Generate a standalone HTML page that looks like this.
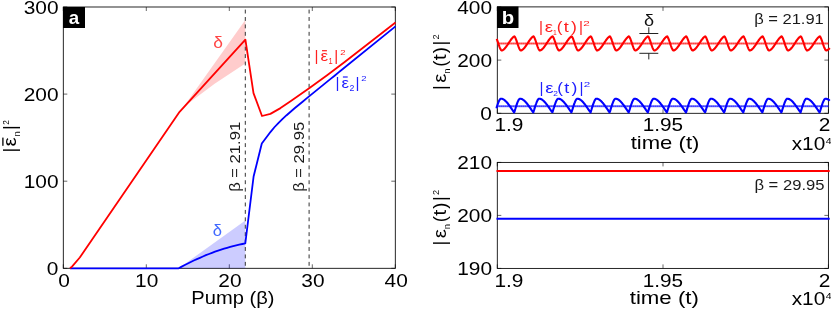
<!DOCTYPE html>
<html><head><meta charset="utf-8"><style>html,body{margin:0;padding:0;background:#fff;overflow:hidden}svg{display:block;font-family:"Liberation Sans",sans-serif;will-change:transform}</style></head>
<body><svg width="831" height="309" viewBox="0 0 831 309">
<rect x="63.3" y="7.0" width="332.00" height="261.30" fill="none" stroke="#000" stroke-width="0.85"/><path d="M63.30,268.3v-4M63.30,7.0v4M146.30,268.3v-4M146.30,7.0v4M229.30,268.3v-4M229.30,7.0v4M312.30,268.3v-4M312.30,7.0v4M395.30,268.3v-4M395.30,7.0v4M63.3,268.30h4M395.3,268.30h-4M63.3,181.20h4M395.3,181.20h-4M63.3,94.10h4M395.3,94.10h-4M63.3,7.00h4M395.3,7.00h-4" stroke="#000" stroke-width="0.6" fill="none"/>
<rect x="497.3" y="6.9" width="331.10" height="106.40" fill="none" stroke="#000" stroke-width="0.85"/><path d="M497.30,113.3v-4M497.30,6.9v4M663.00,113.3v-4M663.00,6.9v4M828.40,113.3v-4M828.40,6.9v4M497.3,113.30h4M828.4,113.30h-4M497.3,60.10h4M828.4,60.10h-4M497.3,6.90h4M828.4,6.90h-4" stroke="#000" stroke-width="0.6" fill="none"/>
<rect x="497.3" y="162.4" width="331.10" height="106.00" fill="none" stroke="#000" stroke-width="0.85"/><path d="M497.30,268.4v-4M497.30,162.4v4M663.00,268.4v-4M663.00,162.4v4M828.40,268.4v-4M828.40,162.4v4M497.3,268.40h4M828.4,268.40h-4M497.3,215.40h4M828.4,215.40h-4M497.3,162.40h4M828.4,162.40h-4" stroke="#000" stroke-width="0.6" fill="none"/>
<polygon points="183.5,107 245.3,20 245.3,63.4 215,83.5" fill="#ff0000" fill-opacity="0.2"/>
<polygon points="178.7,268.3 245.3,220.6 245.3,268.3" fill="#0000ff" fill-opacity="0.2"/>
<line x1="245.3" y1="7.0" x2="245.3" y2="268.3" stroke="#333" stroke-width="1" stroke-dasharray="3.9 3.52" stroke-dashoffset="-2.6"/>
<line x1="309.1" y1="7.0" x2="309.1" y2="268.3" stroke="#333" stroke-width="1" stroke-dasharray="3.9 3.52" stroke-dashoffset="-2.6"/>
<polyline points="70.0,268.3 178.7,268.3 181.7,266.6 184.8,265.0 187.8,263.5 190.8,262.0 193.8,260.5 196.9,259.1 199.9,257.8 202.9,256.5 205.9,255.2 209.0,254.0 212.0,252.8 215.0,251.7 218.1,250.7 221.1,249.7 224.1,248.7 227.1,247.8 230.2,246.9 233.2,246.1 236.2,245.4 239.2,244.7 242.3,244.0 245.3,243.4 253.6,176.5 261.8,143.5 270.6,131.8 274.6,127.0 278.6,122.8 282.6,118.9 286.6,115.2 290.6,111.7 294.6,108.3 298.6,105.0 302.6,101.7 306.6,98.4 310.6,95.1 314.6,91.9 318.6,88.6 322.6,85.4 326.6,82.1 330.6,78.9 334.6,75.7 338.6,72.4 340.0,71.3 395.5,26.4" fill="none" stroke="#0000ff" stroke-width="1.8" stroke-linejoin="round" />
<polyline points="70.0,268.3 72.0,266.6 79.8,257.5 179.6,111.8 245.4,39.7 253.5,93.1 262.0,116.0 270.4,113.9 280.5,108.1 290.9,101.1 309.5,88.1 327.1,75.2 345.0,61.8 395.5,22.5" fill="none" stroke="#ff0000" stroke-width="1.8" stroke-linejoin="round" />
<line x1="497.3" x2="828.4" y1="43.5" y2="43.5" stroke="#ff0000" stroke-opacity="0.5" stroke-width="1.9"/>
<line x1="497.3" x2="828.4" y1="43.5" y2="43.5" stroke="#ff0000" stroke-opacity="0.7" stroke-width="1.6" stroke-dasharray="1.1 0.9"/>
<line x1="497.3" x2="828.4" y1="106.3" y2="106.3" stroke="#0000ff" stroke-opacity="0.5" stroke-width="1.9"/>
<line x1="497.3" x2="828.4" y1="106.3" y2="106.3" stroke="#0000ff" stroke-opacity="0.7" stroke-width="1.6" stroke-dasharray="1.1 0.9"/>
<polyline points="496.7,38.8 497.0,39.6 497.3,40.4 497.6,41.3 497.9,42.2 498.2,43.1 498.5,44.0 498.8,44.9 499.1,45.7 499.4,46.6 499.7,47.4 500.0,48.1 500.3,48.8 500.6,49.3 500.9,49.8 501.2,50.2 501.5,50.4 501.8,50.5 502.1,50.4 502.4,50.3 502.7,50.2 503.0,50.0 503.3,49.8 503.6,49.6 503.9,49.3 504.2,49.1 504.5,48.8 504.8,48.4 505.1,48.1 505.4,47.7 505.7,47.3 506.0,47.0 506.3,46.5 506.6,46.1 506.9,45.7 507.2,45.3 507.5,44.8 507.8,44.4 508.1,43.9 508.4,43.5 508.7,43.0 509.0,42.5 509.3,42.1 509.6,41.6 509.9,41.2 510.2,40.8 510.5,40.3 510.8,39.9 511.1,39.5 511.4,39.1 511.7,38.7 512.0,38.4 512.3,38.0 512.6,37.7 512.9,37.4 513.2,37.1 513.5,36.9 513.8,36.7 514.1,36.5 514.4,36.3 514.7,36.7 515.0,37.1 515.3,37.7 515.6,38.4 515.9,39.1 516.2,39.9 516.5,40.7 516.8,41.6 517.1,42.5 517.4,43.4 517.7,44.3 518.0,45.2 518.3,46.0 518.6,46.9 518.9,47.6 519.2,48.3 519.5,49.0 519.8,49.5 520.1,50.0 520.4,50.3 520.7,50.5 521.0,50.5 521.3,50.4 521.6,50.3 521.9,50.1 522.2,49.9 522.5,49.7 522.8,49.5 523.1,49.2 523.4,48.9 523.7,48.6 524.0,48.3 524.3,48.0 524.6,47.6 524.9,47.2 525.2,46.8 525.5,46.4 525.8,46.0 526.1,45.5 526.4,45.1 526.7,44.7 527.0,44.2 527.3,43.7 527.6,43.3 527.9,42.8 528.2,42.4 528.5,41.9 528.8,41.5 529.1,41.0 529.4,40.6 529.7,40.2 530.0,39.8 530.3,39.4 530.6,39.0 530.9,38.6 531.2,38.2 531.5,37.9 531.8,37.6 532.1,37.3 532.4,37.0 532.7,36.8 533.0,36.6 533.3,36.4 533.6,36.4 533.9,36.8 534.2,37.3 534.5,37.9 534.8,38.6 535.1,39.4 535.4,40.2 535.7,41.0 536.0,41.9 536.3,42.8 536.6,43.7 536.9,44.6 537.2,45.5 537.5,46.4 537.8,47.2 538.1,47.9 538.4,48.6 538.7,49.2 539.0,49.7 539.3,50.1 539.6,50.4 539.9,50.5 540.2,50.4 540.5,50.3 540.8,50.2 541.1,50.1 541.4,49.9 541.7,49.6 542.0,49.4 542.3,49.1 542.6,48.8 542.9,48.5 543.2,48.2 543.5,47.8 543.8,47.5 544.1,47.1 544.4,46.7 544.7,46.2 545.0,45.8 545.3,45.4 545.6,44.9 545.9,44.5 546.2,44.0 546.5,43.6 546.8,43.1 547.1,42.7 547.4,42.2 547.7,41.8 548.0,41.3 548.3,40.9 548.6,40.4 548.9,40.0 549.2,39.6 549.5,39.2 549.8,38.8 550.1,38.5 550.4,38.1 550.7,37.8 551.0,37.5 551.3,37.2 551.6,37.0 551.9,36.7 552.2,36.5 552.5,36.3 552.8,36.6 553.1,37.0 553.4,37.5 553.7,38.2 554.0,38.9 554.3,39.7 554.6,40.5 554.9,41.3 555.2,42.2 555.5,43.1 555.8,44.1 556.1,44.9 556.4,45.8 556.7,46.7 557.0,47.4 557.3,48.2 557.6,48.8 557.9,49.4 558.2,49.8 558.5,50.2 558.8,50.4 559.1,50.5 559.4,50.4 559.7,50.3 560.0,50.2 560.3,50.0 560.6,49.8 560.9,49.6 561.2,49.3 561.5,49.0 561.8,48.7 562.1,48.4 562.4,48.1 562.7,47.7 563.0,47.3 563.3,46.9 563.6,46.5 563.9,46.1 564.2,45.7 564.5,45.2 564.8,44.8 565.1,44.3 565.4,43.9 565.7,43.4 566.0,43.0 566.3,42.5 566.6,42.0 566.9,41.6 567.2,41.1 567.5,40.7 567.8,40.3 568.1,39.9 568.4,39.5 568.7,39.1 569.0,38.7 569.3,38.3 569.6,38.0 569.9,37.7 570.2,37.4 570.5,37.1 570.8,36.9 571.1,36.6 571.4,36.4 571.7,36.3 572.0,36.7 572.3,37.2 572.6,37.8 572.9,38.4 573.2,39.2 573.5,40.0 573.8,40.8 574.1,41.7 574.4,42.6 574.7,43.5 575.0,44.4 575.3,45.3 575.6,46.1 575.9,47.0 576.2,47.7 576.5,48.4 576.8,49.0 577.1,49.6 577.4,50.0 577.7,50.3 578.0,50.5 578.3,50.5 578.6,50.4 578.9,50.3 579.2,50.1 579.5,49.9 579.8,49.7 580.1,49.5 580.4,49.2 580.7,48.9 581.0,48.6 581.3,48.3 581.6,47.9 581.9,47.6 582.2,47.2 582.5,46.8 582.8,46.4 583.1,45.9 583.4,45.5 583.7,45.1 584.0,44.6 584.3,44.2 584.6,43.7 584.9,43.2 585.2,42.8 585.5,42.3 585.8,41.9 586.1,41.4 586.4,41.0 586.7,40.6 587.0,40.1 587.3,39.7 587.6,39.3 587.9,38.9 588.2,38.6 588.5,38.2 588.8,37.9 589.1,37.6 589.4,37.3 589.7,37.0 590.0,36.8 590.3,36.6 590.6,36.4 590.9,36.5 591.2,36.9 591.5,37.4 591.8,38.0 592.1,38.7 592.4,39.4 592.7,40.3 593.0,41.1 593.3,42.0 593.6,42.9 593.9,43.8 594.2,44.7 594.5,45.6 594.8,46.4 595.1,47.2 595.4,48.0 595.7,48.7 596.0,49.2 596.3,49.7 596.6,50.1 596.9,50.4 597.2,50.5 597.5,50.4 597.8,50.3 598.1,50.2 598.4,50.0 598.7,49.8 599.0,49.6 599.3,49.4 599.6,49.1 599.9,48.8 600.2,48.5 600.5,48.1 600.8,47.8 601.1,47.4 601.4,47.0 601.7,46.6 602.0,46.2 602.3,45.8 602.6,45.3 602.9,44.9 603.2,44.4 603.5,44.0 603.8,43.5 604.1,43.1 604.4,42.6 604.7,42.2 605.0,41.7 605.3,41.3 605.6,40.8 605.9,40.4 606.2,40.0 606.5,39.6 606.8,39.2 607.1,38.8 607.4,38.4 607.7,38.1 608.0,37.8 608.3,37.5 608.6,37.2 608.9,36.9 609.2,36.7 609.5,36.5 609.8,36.3 610.1,36.6 610.4,37.0 610.7,37.6 611.0,38.2 611.3,39.0 611.6,39.7 611.9,40.6 612.2,41.4 612.5,42.3 612.8,43.2 613.1,44.1 613.4,45.0 613.7,45.9 614.0,46.7 614.3,47.5 614.6,48.2 614.9,48.9 615.2,49.4 615.5,49.9 615.8,50.2 616.1,50.4 616.4,50.5 616.7,50.4 617.0,50.3 617.3,50.1 617.6,50.0 617.9,49.8 618.2,49.5 618.5,49.3 618.8,49.0 619.1,48.7 619.4,48.4 619.7,48.0 620.0,47.7 620.3,47.3 620.6,46.9 620.9,46.5 621.2,46.0 621.5,45.6 621.8,45.2 622.1,44.7 622.4,44.3 622.7,43.8 623.0,43.4 623.3,42.9 623.6,42.5 623.9,42.0 624.2,41.5 624.5,41.1 624.8,40.7 625.1,40.2 625.4,39.8 625.7,39.4 626.0,39.0 626.3,38.7 626.6,38.3 626.9,38.0 627.2,37.7 627.5,37.4 627.8,37.1 628.1,36.8 628.4,36.6 628.7,36.4 629.0,36.4 629.3,36.7 629.6,37.2 629.9,37.8 630.2,38.5 630.5,39.2 630.8,40.0 631.1,40.9 631.4,41.8 631.7,42.7 632.0,43.6 632.3,44.5 632.6,45.4 632.9,46.2 633.2,47.0 633.5,47.8 633.8,48.5 634.1,49.1 634.4,49.6 634.7,50.0 635.0,50.3 635.3,50.5 635.6,50.5 635.9,50.4 636.2,50.2 636.5,50.1 636.8,49.9 637.1,49.7 637.4,49.4 637.7,49.2 638.0,48.9 638.3,48.6 638.6,48.2 638.9,47.9 639.2,47.5 639.5,47.1 639.8,46.7 640.1,46.3 640.4,45.9 640.7,45.5 641.0,45.0 641.3,44.6 641.6,44.1 641.9,43.7 642.2,43.2 642.5,42.7 642.8,42.3 643.1,41.8 643.4,41.4 643.7,40.9 644.0,40.5 644.3,40.1 644.6,39.7 644.9,39.3 645.2,38.9 645.5,38.5 645.8,38.2 646.1,37.8 646.4,37.5 646.7,37.3 647.0,37.0 647.3,36.8 647.6,36.5 647.9,36.4 648.2,36.5 648.5,36.9 648.8,37.4 649.1,38.1 649.4,38.8 649.7,39.5 650.0,40.3 650.3,41.2 650.6,42.1 650.9,43.0 651.2,43.9 651.5,44.8 651.8,45.7 652.1,46.5 652.4,47.3 652.7,48.1 653.0,48.7 653.3,49.3 653.6,49.8 653.9,50.2 654.2,50.4 654.5,50.5 654.8,50.4 655.1,50.3 655.4,50.2 655.7,50.0 656.0,49.8 656.3,49.6 656.6,49.3 656.9,49.1 657.2,48.8 657.5,48.5 657.8,48.1 658.1,47.8 658.4,47.4 658.7,47.0 659.0,46.6 659.3,46.2 659.6,45.7 659.9,45.3 660.2,44.8 660.5,44.4 660.8,43.9 661.1,43.5 661.4,43.0 661.7,42.6 662.0,42.1 662.3,41.7 662.6,41.2 662.9,40.8 663.2,40.4 663.5,39.9 663.8,39.5 664.1,39.1 664.4,38.8 664.7,38.4 665.0,38.1 665.3,37.7 665.6,37.4 665.9,37.2 666.2,36.9 666.5,36.7 666.8,36.5 667.1,36.3 667.4,36.6 667.7,37.1 668.0,37.7 668.3,38.3 668.6,39.0 668.9,39.8 669.2,40.7 669.5,41.5 669.8,42.4 670.1,43.3 670.4,44.2 670.7,45.1 671.0,46.0 671.3,46.8 671.6,47.6 671.9,48.3 672.2,48.9 672.5,49.5 672.8,49.9 673.1,50.3 673.4,50.5 673.7,50.5 674.0,50.4 674.3,50.3 674.6,50.1 674.9,50.0 675.2,49.7 675.5,49.5 675.8,49.2 676.1,49.0 676.4,48.7 676.7,48.3 677.0,48.0 677.3,47.6 677.6,47.2 677.9,46.8 678.2,46.4 678.5,46.0 678.8,45.6 679.1,45.1 679.4,44.7 679.7,44.2 680.0,43.8 680.3,43.3 680.6,42.9 680.9,42.4 681.2,42.0 681.5,41.5 681.8,41.1 682.1,40.6 682.4,40.2 682.7,39.8 683.0,39.4 683.3,39.0 683.6,38.6 683.9,38.3 684.2,37.9 684.5,37.6 684.8,37.3 685.1,37.1 685.4,36.8 685.7,36.6 686.0,36.4 686.3,36.4 686.6,36.8 686.9,37.3 687.2,37.9 687.5,38.6 687.8,39.3 688.1,40.1 688.4,41.0 688.7,41.9 689.0,42.8 689.3,43.7 689.6,44.6 689.9,45.4 690.2,46.3 690.5,47.1 690.8,47.9 691.1,48.5 691.4,49.1 691.7,49.7 692.0,50.1 692.3,50.3 692.6,50.5 692.9,50.4 693.2,50.4 693.5,50.2 693.8,50.1 694.1,49.9 694.4,49.7 694.7,49.4 695.0,49.1 695.3,48.9 695.6,48.5 695.9,48.2 696.2,47.8 696.5,47.5 696.8,47.1 697.1,46.7 697.4,46.3 697.7,45.8 698.0,45.4 698.3,45.0 698.6,44.5 698.9,44.1 699.2,43.6 699.5,43.2 699.8,42.7 700.1,42.2 700.4,41.8 700.7,41.3 701.0,40.9 701.3,40.5 701.6,40.0 701.9,39.6 702.2,39.2 702.5,38.9 702.8,38.5 703.1,38.1 703.4,37.8 703.7,37.5 704.0,37.2 704.3,37.0 704.6,36.7 704.9,36.5 705.2,36.4 705.5,36.5 705.8,37.0 706.1,37.5 706.4,38.1 706.7,38.8 707.0,39.6 707.3,40.4 707.6,41.3 707.9,42.2 708.2,43.1 708.5,44.0 708.8,44.9 709.1,45.8 709.4,46.6 709.7,47.4 710.0,48.1 710.3,48.8 710.6,49.3 710.9,49.8 711.2,50.2 711.5,50.4 711.8,50.5 712.1,50.4 712.4,50.3 712.7,50.2 713.0,50.0 713.3,49.8 713.6,49.6 713.9,49.3 714.2,49.0 714.5,48.7 714.8,48.4 715.1,48.1 715.4,47.7 715.7,47.3 716.0,46.9 716.3,46.5 716.6,46.1 716.9,45.7 717.2,45.2 717.5,44.8 717.8,44.4 718.1,43.9 718.4,43.4 718.7,43.0 719.0,42.5 719.3,42.1 719.6,41.6 719.9,41.2 720.2,40.7 720.5,40.3 720.8,39.9 721.1,39.5 721.4,39.1 721.7,38.7 722.0,38.4 722.3,38.0 722.6,37.7 722.9,37.4 723.2,37.1 723.5,36.9 723.8,36.7 724.1,36.5 724.4,36.3 724.7,36.7 725.0,37.1 725.3,37.7 725.6,38.4 725.9,39.1 726.2,39.9 726.5,40.7 726.8,41.6 727.1,42.5 727.4,43.4 727.7,44.3 728.0,45.2 728.3,46.1 728.6,46.9 728.9,47.7 729.2,48.4 729.5,49.0 729.8,49.5 730.1,50.0 730.4,50.3 730.7,50.5 731.0,50.5 731.3,50.4 731.6,50.3 731.9,50.1 732.2,49.9 732.5,49.7 732.8,49.5 733.1,49.2 733.4,48.9 733.7,48.6 734.0,48.3 734.3,47.9 734.6,47.6 734.9,47.2 735.2,46.8 735.5,46.4 735.8,46.0 736.1,45.5 736.4,45.1 736.7,44.6 737.0,44.2 737.3,43.7 737.6,43.3 737.9,42.8 738.2,42.4 738.5,41.9 738.8,41.5 739.1,41.0 739.4,40.6 739.7,40.2 740.0,39.7 740.3,39.3 740.6,39.0 740.9,38.6 741.2,38.2 741.5,37.9 741.8,37.6 742.1,37.3 742.4,37.0 742.7,36.8 743.0,36.6 743.3,36.4 743.6,36.4 743.9,36.8 744.2,37.3 744.5,38.0 744.8,38.6 745.1,39.4 745.4,40.2 745.7,41.1 746.0,41.9 746.3,42.8 746.6,43.8 746.9,44.7 747.2,45.5 747.5,46.4 747.8,47.2 748.1,47.9 748.4,48.6 748.7,49.2 749.0,49.7 749.3,50.1 749.6,50.4 749.9,50.5 750.2,50.4 750.5,50.3 750.8,50.2 751.1,50.0 751.4,49.9 751.7,49.6 752.0,49.4 752.3,49.1 752.6,48.8 752.9,48.5 753.2,48.2 753.5,47.8 753.8,47.4 754.1,47.0 754.4,46.6 754.7,46.2 755.0,45.8 755.3,45.4 755.6,44.9 755.9,44.5 756.2,44.0 756.5,43.6 756.8,43.1 757.1,42.6 757.4,42.2 757.7,41.7 758.0,41.3 758.3,40.9 758.6,40.4 758.9,40.0 759.2,39.6 759.5,39.2 759.8,38.8 760.1,38.5 760.4,38.1 760.7,37.8 761.0,37.5 761.3,37.2 761.6,36.9 761.9,36.7 762.2,36.5 762.5,36.3 762.8,36.6 763.1,37.0 763.4,37.6 763.7,38.2 764.0,38.9 764.3,39.7 764.6,40.5 764.9,41.4 765.2,42.3 765.5,43.2 765.8,44.1 766.1,45.0 766.4,45.8 766.7,46.7 767.0,47.5 767.3,48.2 767.6,48.8 767.9,49.4 768.2,49.9 768.5,50.2 768.8,50.4 769.1,50.5 769.4,50.4 769.7,50.3 770.0,50.2 770.3,50.0 770.6,49.8 770.9,49.6 771.2,49.3 771.5,49.0 771.8,48.7 772.1,48.4 772.4,48.0 772.7,47.7 773.0,47.3 773.3,46.9 773.6,46.5 773.9,46.1 774.2,45.6 774.5,45.2 774.8,44.8 775.1,44.3 775.4,43.9 775.7,43.4 776.0,42.9 776.3,42.5 776.6,42.0 776.9,41.6 777.2,41.1 777.5,40.7 777.8,40.3 778.1,39.9 778.4,39.5 778.7,39.1 779.0,38.7 779.3,38.3 779.6,38.0 779.9,37.7 780.2,37.4 780.5,37.1 780.8,36.9 781.1,36.6 781.4,36.4 781.7,36.3 782.0,36.7 782.3,37.2 782.6,37.8 782.9,38.4 783.2,39.2 783.5,40.0 783.8,40.8 784.1,41.7 784.4,42.6 784.7,43.5 785.0,44.4 785.3,45.3 785.6,46.2 785.9,47.0 786.2,47.7 786.5,48.4 786.8,49.1 787.1,49.6 787.4,50.0 787.7,50.3 788.0,50.5 788.3,50.5 788.6,50.4 788.9,50.2 789.2,50.1 789.5,49.9 789.8,49.7 790.1,49.5 790.4,49.2 790.7,48.9 791.0,48.6 791.3,48.3 791.6,47.9 791.9,47.5 792.2,47.2 792.5,46.8 792.8,46.3 793.1,45.9 793.4,45.5 793.7,45.0 794.0,44.6 794.3,44.1 794.6,43.7 794.9,43.2 795.2,42.8 795.5,42.3 795.8,41.9 796.1,41.4 796.4,41.0 796.7,40.5 797.0,40.1 797.3,39.7 797.6,39.3 797.9,38.9 798.2,38.6 798.5,38.2 798.8,37.9 799.1,37.6 799.4,37.3 799.7,37.0 800.0,36.8 800.3,36.6 800.6,36.4 800.9,36.5 801.2,36.9 801.5,37.4 801.8,38.0 802.1,38.7 802.4,39.5 802.7,40.3 803.0,41.1 803.3,42.0 803.6,42.9 803.9,43.8 804.2,44.7 804.5,45.6 804.8,46.5 805.1,47.3 805.4,48.0 805.7,48.7 806.0,49.3 806.3,49.7 806.6,50.1 806.9,50.4 807.2,50.5 807.5,50.4 807.8,50.3 808.1,50.2 808.4,50.0 808.7,49.8 809.0,49.6 809.3,49.4 809.6,49.1 809.9,48.8 810.2,48.5 810.5,48.1 810.8,47.8 811.1,47.4 811.4,47.0 811.7,46.6 812.0,46.2 812.3,45.8 812.6,45.3 812.9,44.9 813.2,44.4 813.5,44.0 813.8,43.5 814.1,43.1 814.4,42.6 814.7,42.1 815.0,41.7 815.3,41.3 815.6,40.8 815.9,40.4 816.2,40.0 816.5,39.6 816.8,39.2 817.1,38.8 817.4,38.4 817.7,38.1 818.0,37.8 818.3,37.5 818.6,37.2 818.9,36.9 819.2,36.7 819.5,36.5 819.8,36.3 820.1,36.6 820.4,37.1 820.7,37.6 821.0,38.3 821.3,39.0 821.6,39.8 821.9,40.6 822.2,41.5 822.5,42.4 822.8,43.3 823.1,44.2 823.4,45.1 823.7,45.9 824.0,46.8 824.3,47.5 824.6,48.3 824.9,48.9 825.2,49.5 825.5,49.9 825.8,50.2 826.1,50.4 826.4,50.5 826.7,50.4 827.0,50.3 827.3,50.1 827.6,50.0 827.9,49.8 828.2,49.5 828.5,49.3 828.8,49.0 829.1,48.7 829.4,48.4 829.7,48.0" fill="none" stroke="#ff0000" stroke-width="2.1" stroke-linejoin="round" />
<polyline points="496.4,108.3 496.7,107.4 497.0,106.4 497.3,105.5 497.6,104.6 497.9,103.7 498.2,102.9 498.5,102.2 498.8,101.4 499.1,100.8 499.4,100.2 499.7,99.7 500.0,99.3 500.3,99.0 500.6,98.8 500.9,98.7 501.2,98.7 501.5,98.7 501.8,98.8 502.1,98.8 502.4,98.9 502.7,99.0 503.0,99.2 503.3,99.3 503.6,99.5 503.9,99.7 504.2,99.9 504.5,100.1 504.8,100.4 505.1,100.6 505.4,100.9 505.7,101.2 506.0,101.5 506.3,101.8 506.6,102.1 506.9,102.4 507.2,102.8 507.5,103.1 507.8,103.5 508.1,103.9 508.4,104.3 508.7,104.7 509.0,105.1 509.3,105.5 509.6,105.9 509.9,106.3 510.2,106.7 510.5,107.1 510.8,107.6 511.1,108.0 511.4,108.4 511.7,108.9 512.0,109.3 512.3,109.8 512.6,110.2 512.9,110.6 513.2,111.1 513.5,111.5 513.8,111.9 514.1,112.4 514.4,111.9 514.7,110.9 515.0,109.9 515.3,109.0 515.6,108.0 515.9,107.0 516.2,106.1 516.5,105.2 516.8,104.3 517.1,103.4 517.4,102.6 517.7,101.9 518.0,101.2 518.3,100.6 518.6,100.0 518.9,99.6 519.2,99.2 519.5,98.9 519.8,98.8 520.1,98.7 520.4,98.7 520.7,98.7 521.0,98.8 521.3,98.9 521.6,99.0 521.9,99.1 522.2,99.2 522.5,99.4 522.8,99.6 523.1,99.8 523.4,100.0 523.7,100.2 524.0,100.4 524.3,100.7 524.6,101.0 524.9,101.3 525.2,101.6 525.5,101.9 525.8,102.2 526.1,102.6 526.4,102.9 526.7,103.3 527.0,103.6 527.3,104.0 527.6,104.4 527.9,104.8 528.2,105.2 528.5,105.6 528.8,106.0 529.1,106.4 529.4,106.9 529.7,107.3 530.0,107.7 530.3,108.2 530.6,108.6 530.9,109.0 531.2,109.5 531.5,109.9 531.8,110.4 532.1,110.8 532.4,111.2 532.7,111.7 533.0,112.1 533.3,112.5 533.6,111.5 533.9,110.5 534.2,109.6 534.5,108.6 534.8,107.6 535.1,106.7 535.4,105.7 535.7,104.8 536.0,104.0 536.3,103.1 536.6,102.4 536.9,101.6 537.2,101.0 537.5,100.4 537.8,99.9 538.1,99.4 538.4,99.1 538.7,98.9 539.0,98.7 539.3,98.7 539.6,98.7 539.9,98.8 540.2,98.8 540.5,98.9 540.8,99.0 541.1,99.1 541.4,99.3 541.7,99.5 542.0,99.6 542.3,99.8 542.6,100.1 542.9,100.3 543.2,100.5 543.5,100.8 543.8,101.1 544.1,101.4 544.4,101.7 544.7,102.0 545.0,102.3 545.3,102.7 545.6,103.0 545.9,103.4 546.2,103.8 546.5,104.2 546.8,104.5 547.1,104.9 547.4,105.3 547.7,105.8 548.0,106.2 548.3,106.6 548.6,107.0 548.9,107.5 549.2,107.9 549.5,108.3 549.8,108.8 550.1,109.2 550.4,109.6 550.7,110.1 551.0,110.5 551.3,110.9 551.6,111.4 551.9,111.8 552.2,112.2 552.5,112.1 552.8,111.2 553.1,110.2 553.4,109.2 553.7,108.2 554.0,107.3 554.3,106.3 554.6,105.4 554.9,104.5 555.2,103.7 555.5,102.8 555.8,102.1 556.1,101.4 556.4,100.7 556.7,100.2 557.0,99.7 557.3,99.3 557.6,99.0 557.9,98.8 558.2,98.7 558.5,98.7 558.8,98.7 559.1,98.8 559.4,98.9 559.7,98.9 560.0,99.1 560.3,99.2 560.6,99.3 560.9,99.5 561.2,99.7 561.5,99.9 561.8,100.1 562.1,100.4 562.4,100.6 562.7,100.9 563.0,101.2 563.3,101.5 563.6,101.8 563.9,102.1 564.2,102.5 564.5,102.8 564.8,103.2 565.1,103.5 565.4,103.9 565.7,104.3 566.0,104.7 566.3,105.1 566.6,105.5 566.9,105.9 567.2,106.3 567.5,106.8 567.8,107.2 568.1,107.6 568.4,108.0 568.7,108.5 569.0,108.9 569.3,109.4 569.6,109.8 569.9,110.2 570.2,110.7 570.5,111.1 570.8,111.5 571.1,112.0 571.4,112.4 571.7,111.8 572.0,110.8 572.3,109.8 572.6,108.9 572.9,107.9 573.2,106.9 573.5,106.0 573.8,105.1 574.1,104.2 574.4,103.3 574.7,102.6 575.0,101.8 575.3,101.1 575.6,100.5 575.9,100.0 576.2,99.5 576.5,99.2 576.8,98.9 577.1,98.8 577.4,98.7 577.7,98.7 578.0,98.7 578.3,98.8 578.6,98.9 578.9,99.0 579.2,99.1 579.5,99.2 579.8,99.4 580.1,99.6 580.4,99.8 580.7,100.0 581.0,100.2 581.3,100.5 581.6,100.7 581.9,101.0 582.2,101.3 582.5,101.6 582.8,101.9 583.1,102.3 583.4,102.6 583.7,102.9 584.0,103.3 584.3,103.7 584.6,104.1 584.9,104.4 585.2,104.8 585.5,105.2 585.8,105.7 586.1,106.1 586.4,106.5 586.7,106.9 587.0,107.3 587.3,107.8 587.6,108.2 587.9,108.6 588.2,109.1 588.5,109.5 588.8,110.0 589.1,110.4 589.4,110.8 589.7,111.3 590.0,111.7 590.3,112.1 590.6,112.4 590.9,111.4 591.2,110.4 591.5,109.5 591.8,108.5 592.1,107.5 592.4,106.6 592.7,105.6 593.0,104.7 593.3,103.9 593.6,103.1 593.9,102.3 594.2,101.6 594.5,100.9 594.8,100.3 595.1,99.8 595.4,99.4 595.7,99.1 596.0,98.8 596.3,98.7 596.6,98.7 596.9,98.7 597.2,98.8 597.5,98.8 597.8,98.9 598.1,99.0 598.4,99.2 598.7,99.3 599.0,99.5 599.3,99.7 599.6,99.9 599.9,100.1 600.2,100.3 600.5,100.6 600.8,100.8 601.1,101.1 601.4,101.4 601.7,101.7 602.0,102.0 602.3,102.4 602.6,102.7 602.9,103.1 603.2,103.4 603.5,103.8 603.8,104.2 604.1,104.6 604.4,105.0 604.7,105.4 605.0,105.8 605.3,106.2 605.6,106.6 605.9,107.1 606.2,107.5 606.5,107.9 606.8,108.4 607.1,108.8 607.4,109.2 607.7,109.7 608.0,110.1 608.3,110.6 608.6,111.0 608.9,111.4 609.2,111.9 609.5,112.3 609.8,112.0 610.1,111.1 610.4,110.1 610.7,109.1 611.0,108.1 611.3,107.2 611.6,106.2 611.9,105.3 612.2,104.4 612.5,103.6 612.8,102.8 613.1,102.0 613.4,101.3 613.7,100.7 614.0,100.1 614.3,99.7 614.6,99.3 614.9,99.0 615.2,98.8 615.5,98.7 615.8,98.7 616.1,98.7 616.4,98.8 616.7,98.9 617.0,99.0 617.3,99.1 617.6,99.2 617.9,99.4 618.2,99.5 618.5,99.7 618.8,99.9 619.1,100.2 619.4,100.4 619.7,100.7 620.0,100.9 620.3,101.2 620.6,101.5 620.9,101.8 621.2,102.2 621.5,102.5 621.8,102.8 622.1,103.2 622.4,103.6 622.7,104.0 623.0,104.3 623.3,104.7 623.6,105.1 623.9,105.5 624.2,106.0 624.5,106.4 624.8,106.8 625.1,107.2 625.4,107.7 625.7,108.1 626.0,108.5 626.3,109.0 626.6,109.4 626.9,109.8 627.2,110.3 627.5,110.7 627.8,111.2 628.1,111.6 628.4,112.0 628.7,112.4 629.0,111.7 629.3,110.7 629.6,109.7 629.9,108.8 630.2,107.8 630.5,106.8 630.8,105.9 631.1,105.0 631.4,104.1 631.7,103.3 632.0,102.5 632.3,101.7 632.6,101.1 632.9,100.5 633.2,99.9 633.5,99.5 633.8,99.2 634.1,98.9 634.4,98.7 634.7,98.7 635.0,98.7 635.3,98.8 635.6,98.8 635.9,98.9 636.2,99.0 636.5,99.1 636.8,99.3 637.1,99.4 637.4,99.6 637.7,99.8 638.0,100.0 638.3,100.3 638.6,100.5 638.9,100.8 639.2,101.0 639.5,101.3 639.8,101.6 640.1,102.0 640.4,102.3 640.7,102.6 641.0,103.0 641.3,103.3 641.6,103.7 641.9,104.1 642.2,104.5 642.5,104.9 642.8,105.3 643.1,105.7 643.4,106.1 643.7,106.5 644.0,107.0 644.3,107.4 644.6,107.8 644.9,108.2 645.2,108.7 645.5,109.1 645.8,109.6 646.1,110.0 646.4,110.4 646.7,110.9 647.0,111.3 647.3,111.7 647.6,112.2 647.9,112.3 648.2,111.3 648.5,110.4 648.8,109.4 649.1,108.4 649.4,107.4 649.7,106.5 650.0,105.6 650.3,104.7 650.6,103.8 650.9,103.0 651.2,102.2 651.5,101.5 651.8,100.8 652.1,100.3 652.4,99.8 652.7,99.4 653.0,99.0 653.3,98.8 653.6,98.7 653.9,98.7 654.2,98.7 654.5,98.8 654.8,98.8 655.1,98.9 655.4,99.0 655.7,99.2 656.0,99.3 656.3,99.5 656.6,99.7 656.9,99.9 657.2,100.1 657.5,100.3 657.8,100.6 658.1,100.9 658.4,101.1 658.7,101.4 659.0,101.8 659.3,102.1 659.6,102.4 659.9,102.8 660.2,103.1 660.5,103.5 660.8,103.9 661.1,104.2 661.4,104.6 661.7,105.0 662.0,105.4 662.3,105.8 662.6,106.3 662.9,106.7 663.2,107.1 663.5,107.5 663.8,108.0 664.1,108.4 664.4,108.8 664.7,109.3 665.0,109.7 665.3,110.2 665.6,110.6 665.9,111.0 666.2,111.5 666.5,111.9 666.8,112.3 667.1,111.9 667.4,111.0 667.7,110.0 668.0,109.0 668.3,108.0 668.6,107.1 668.9,106.1 669.2,105.2 669.5,104.3 669.8,103.5 670.1,102.7 670.4,101.9 670.7,101.2 671.0,100.6 671.3,100.1 671.6,99.6 671.9,99.2 672.2,99.0 672.5,98.8 672.8,98.7 673.1,98.7 673.4,98.7 673.7,98.8 674.0,98.9 674.3,99.0 674.6,99.1 674.9,99.2 675.2,99.4 675.5,99.6 675.8,99.7 676.1,100.0 676.4,100.2 676.7,100.4 677.0,100.7 677.3,101.0 677.6,101.3 677.9,101.6 678.2,101.9 678.5,102.2 678.8,102.5 679.1,102.9 679.4,103.2 679.7,103.6 680.0,104.0 680.3,104.4 680.6,104.8 680.9,105.2 681.2,105.6 681.5,106.0 681.8,106.4 682.1,106.8 682.4,107.3 682.7,107.7 683.0,108.1 683.3,108.6 683.6,109.0 683.9,109.4 684.2,109.9 684.5,110.3 684.8,110.8 685.1,111.2 685.4,111.6 685.7,112.1 686.0,112.5 686.3,111.6 686.6,110.6 686.9,109.6 687.2,108.7 687.5,107.7 687.8,106.7 688.1,105.8 688.4,104.9 688.7,104.0 689.0,103.2 689.3,102.4 689.6,101.7 689.9,101.0 690.2,100.4 690.5,99.9 690.8,99.5 691.1,99.1 691.4,98.9 691.7,98.7 692.0,98.7 692.3,98.7 692.6,98.8 692.9,98.8 693.2,98.9 693.5,99.0 693.8,99.1 694.1,99.3 694.4,99.4 694.7,99.6 695.0,99.8 695.3,100.0 695.6,100.3 695.9,100.5 696.2,100.8 696.5,101.1 696.8,101.4 697.1,101.7 697.4,102.0 697.7,102.3 698.0,102.7 698.3,103.0 698.6,103.4 698.9,103.7 699.2,104.1 699.5,104.5 699.8,104.9 700.1,105.3 700.4,105.7 700.7,106.1 701.0,106.6 701.3,107.0 701.6,107.4 701.9,107.9 702.2,108.3 702.5,108.7 702.8,109.2 703.1,109.6 703.4,110.0 703.7,110.5 704.0,110.9 704.3,111.4 704.6,111.8 704.9,112.2 705.2,112.2 705.5,111.2 705.8,110.3 706.1,109.3 706.4,108.3 706.7,107.3 707.0,106.4 707.3,105.5 707.6,104.6 707.9,103.7 708.2,102.9 708.5,102.1 708.8,101.4 709.1,100.8 709.4,100.2 709.7,99.7 710.0,99.3 710.3,99.0 710.6,98.8 710.9,98.7 711.2,98.7 711.5,98.7 711.8,98.8 712.1,98.8 712.4,98.9 712.7,99.1 713.0,99.2 713.3,99.3 713.6,99.5 713.9,99.7 714.2,99.9 714.5,100.1 714.8,100.4 715.1,100.6 715.4,100.9 715.7,101.2 716.0,101.5 716.3,101.8 716.6,102.1 716.9,102.4 717.2,102.8 717.5,103.1 717.8,103.5 718.1,103.9 718.4,104.3 718.7,104.7 719.0,105.1 719.3,105.5 719.6,105.9 719.9,106.3 720.2,106.7 720.5,107.2 720.8,107.6 721.1,108.0 721.4,108.5 721.7,108.9 722.0,109.3 722.3,109.8 722.6,110.2 722.9,110.6 723.2,111.1 723.5,111.5 723.8,111.9 724.1,112.4 724.4,111.8 724.7,110.9 725.0,109.9 725.3,108.9 725.6,107.9 725.9,107.0 726.2,106.0 726.5,105.1 726.8,104.2 727.1,103.4 727.4,102.6 727.7,101.9 728.0,101.2 728.3,100.6 728.6,100.0 728.9,99.6 729.2,99.2 729.5,98.9 729.8,98.8 730.1,98.7 730.4,98.7 730.7,98.7 731.0,98.8 731.3,98.9 731.6,99.0 731.9,99.1 732.2,99.2 732.5,99.4 732.8,99.6 733.1,99.8 733.4,100.0 733.7,100.2 734.0,100.5 734.3,100.7 734.6,101.0 734.9,101.3 735.2,101.6 735.5,101.9 735.8,102.2 736.1,102.6 736.4,102.9 736.7,103.3 737.0,103.6 737.3,104.0 737.6,104.4 737.9,104.8 738.2,105.2 738.5,105.6 738.8,106.0 739.1,106.5 739.4,106.9 739.7,107.3 740.0,107.7 740.3,108.2 740.6,108.6 740.9,109.1 741.2,109.5 741.5,109.9 741.8,110.4 742.1,110.8 742.4,111.2 742.7,111.7 743.0,112.1 743.3,112.4 743.6,111.5 743.9,110.5 744.2,109.5 744.5,108.6 744.8,107.6 745.1,106.6 745.4,105.7 745.7,104.8 746.0,103.9 746.3,103.1 746.6,102.3 746.9,101.6 747.2,101.0 747.5,100.4 747.8,99.9 748.1,99.4 748.4,99.1 748.7,98.9 749.0,98.7 749.3,98.7 749.6,98.7 749.9,98.8 750.2,98.8 750.5,98.9 750.8,99.0 751.1,99.1 751.4,99.3 751.7,99.5 752.0,99.6 752.3,99.8 752.6,100.1 752.9,100.3 753.2,100.6 753.5,100.8 753.8,101.1 754.1,101.4 754.4,101.7 754.7,102.0 755.0,102.4 755.3,102.7 755.6,103.0 755.9,103.4 756.2,103.8 756.5,104.2 756.8,104.6 757.1,105.0 757.4,105.4 757.7,105.8 758.0,106.2 758.3,106.6 758.6,107.0 758.9,107.5 759.2,107.9 759.5,108.3 759.8,108.8 760.1,109.2 760.4,109.7 760.7,110.1 761.0,110.5 761.3,111.0 761.6,111.4 761.9,111.8 762.2,112.3 762.5,112.1 762.8,111.1 763.1,110.2 763.4,109.2 763.7,108.2 764.0,107.2 764.3,106.3 764.6,105.4 764.9,104.5 765.2,103.6 765.5,102.8 765.8,102.1 766.1,101.4 766.4,100.7 766.7,100.2 767.0,99.7 767.3,99.3 767.6,99.0 767.9,98.8 768.2,98.7 768.5,98.7 768.8,98.7 769.1,98.8 769.4,98.9 769.7,99.0 770.0,99.1 770.3,99.2 770.6,99.4 770.9,99.5 771.2,99.7 771.5,99.9 771.8,100.1 772.1,100.4 772.4,100.6 772.7,100.9 773.0,101.2 773.3,101.5 773.6,101.8 773.9,102.1 774.2,102.5 774.5,102.8 774.8,103.2 775.1,103.5 775.4,103.9 775.7,104.3 776.0,104.7 776.3,105.1 776.6,105.5 776.9,105.9 777.2,106.3 777.5,106.8 777.8,107.2 778.1,107.6 778.4,108.1 778.7,108.5 779.0,108.9 779.3,109.4 779.6,109.8 779.9,110.3 780.2,110.7 780.5,111.1 780.8,111.6 781.1,112.0 781.4,112.4 781.7,111.7 782.0,110.8 782.3,109.8 782.6,108.8 782.9,107.9 783.2,106.9 783.5,106.0 783.8,105.0 784.1,104.2 784.4,103.3 784.7,102.5 785.0,101.8 785.3,101.1 785.6,100.5 785.9,100.0 786.2,99.5 786.5,99.2 786.8,98.9 787.1,98.7 787.4,98.7 787.7,98.7 788.0,98.7 788.3,98.8 788.6,98.9 788.9,99.0 789.2,99.1 789.5,99.3 789.8,99.4 790.1,99.6 790.4,99.8 790.7,100.0 791.0,100.2 791.3,100.5 791.6,100.7 791.9,101.0 792.2,101.3 792.5,101.6 792.8,101.9 793.1,102.3 793.4,102.6 793.7,103.0 794.0,103.3 794.3,103.7 794.6,104.1 794.9,104.5 795.2,104.9 795.5,105.3 795.8,105.7 796.1,106.1 796.4,106.5 796.7,106.9 797.0,107.4 797.3,107.8 797.6,108.2 797.9,108.7 798.2,109.1 798.5,109.5 798.8,110.0 799.1,110.4 799.4,110.8 799.7,111.3 800.0,111.7 800.3,112.1 800.6,112.3 800.9,111.4 801.2,110.4 801.5,109.4 801.8,108.5 802.1,107.5 802.4,106.5 802.7,105.6 803.0,104.7 803.3,103.8 803.6,103.0 803.9,102.3 804.2,101.5 804.5,100.9 804.8,100.3 805.1,99.8 805.4,99.4 805.7,99.1 806.0,98.8 806.3,98.7 806.6,98.7 806.9,98.7 807.2,98.8 807.5,98.8 807.8,98.9 808.1,99.0 808.4,99.2 808.7,99.3 809.0,99.5 809.3,99.7 809.6,99.9 809.9,100.1 810.2,100.3 810.5,100.6 810.8,100.8 811.1,101.1 811.4,101.4 811.7,101.7 812.0,102.1 812.3,102.4 812.6,102.7 812.9,103.1 813.2,103.5 813.5,103.8 813.8,104.2 814.1,104.6 814.4,105.0 814.7,105.4 815.0,105.8 815.3,106.2 815.6,106.7 815.9,107.1 816.2,107.5 816.5,107.9 816.8,108.4 817.1,108.8 817.4,109.3 817.7,109.7 818.0,110.1 818.3,110.6 818.6,111.0 818.9,111.4 819.2,111.9 819.5,112.3 819.8,112.0 820.1,111.0 820.4,110.1 820.7,109.1 821.0,108.1 821.3,107.1 821.6,106.2 821.9,105.3 822.2,104.4 822.5,103.5 822.8,102.7 823.1,102.0 823.4,101.3 823.7,100.7 824.0,100.1 824.3,99.6 824.6,99.3 824.9,99.0 825.2,98.8 825.5,98.7 825.8,98.7 826.1,98.7 826.4,98.8 826.7,98.9 827.0,99.0 827.3,99.1 827.6,99.2 827.9,99.4 828.2,99.5 828.5,99.7 828.8,99.9 829.1,100.2 829.4,100.4 829.7,100.7" fill="none" stroke="#0000ff" stroke-width="2.1" stroke-linejoin="round" />
<path d="M639.4,33.5H658.3M639.4,53.3H658.3M648.8,27.3V33.5M648.8,53.3V59.4" stroke="#222" stroke-width="1" fill="none"/>
<line x1="496.5" x2="829.6999999999999" y1="171" y2="171" stroke="#ff0000" stroke-width="1.9"/>
<line x1="496.5" x2="829.6999999999999" y1="218.8" y2="218.8" stroke="#0000ff" stroke-width="1.9"/>
<rect x="63" y="7" width="22" height="21" fill="#000"/>
<rect x="497" y="6.5" width="21.5" height="21.5" fill="#000"/>
<g transform="translate(23.74,14.20) scale(1.1414,1.0000)" fill="#000"><text font-size="18.3">300</text></g>
<g transform="translate(23.74,101.20) scale(1.1414,1.0000)" fill="#000"><text font-size="18.3">200</text></g>
<g transform="translate(23.74,188.20) scale(1.1414,1.0000)" fill="#000"><text font-size="18.3">100</text></g>
<g transform="translate(46.86,275.20) scale(1.1414,1.0000)" fill="#000"><text font-size="18.3">0</text></g>
<g transform="translate(58.15,286.80) scale(1.1414,1.0000)" fill="#000"><text font-size="18.3">0</text></g>
<g transform="translate(135.02,286.80) scale(1.1414,1.0000)" fill="#000"><text font-size="18.3">10</text></g>
<g transform="translate(218.30,286.80) scale(1.1414,1.0000)" fill="#000"><text font-size="18.3">20</text></g>
<g transform="translate(301.37,286.80) scale(1.1414,1.0000)" fill="#000"><text font-size="18.3">30</text></g>
<g transform="translate(384.59,286.80) scale(1.1414,1.0000)" fill="#000"><text font-size="18.3">40</text></g>
<g transform="translate(191.35,304.40) scale(1.0986,1.0000)" fill="#000"><text font-size="18.3">Pump (β)</text></g>
<g transform="translate(457.24,13.70) scale(1.1414,1.0000)" fill="#000"><text font-size="18.3">400</text></g>
<g transform="translate(457.24,66.70) scale(1.1414,1.0000)" fill="#000"><text font-size="18.3">200</text></g>
<g transform="translate(480.36,119.70) scale(1.1414,1.0000)" fill="#000"><text font-size="18.3">0</text></g>
<g transform="translate(457.24,169.20) scale(1.1414,1.0000)" fill="#000"><text font-size="18.3">210</text></g>
<g transform="translate(457.24,222.20) scale(1.1414,1.0000)" fill="#000"><text font-size="18.3">200</text></g>
<g transform="translate(457.24,275.20) scale(1.1414,1.0000)" fill="#000"><text font-size="18.3">190</text></g>
<g transform="translate(494.43,130.80) scale(1.1414,1.0000)" fill="#000"><text font-size="18.3">1.9</text></g>
<g transform="translate(642.74,130.80) scale(1.1343,1.0000)" fill="#000"><text font-size="18.3">1.95</text></g>
<g transform="translate(818.84,130.80) scale(1.1414,1.0000)" fill="#000"><text font-size="18.3">2</text></g>
<g transform="translate(494.43,286.80) scale(1.1414,1.0000)" fill="#000"><text font-size="18.3">1.9</text></g>
<g transform="translate(642.74,286.80) scale(1.1343,1.0000)" fill="#000"><text font-size="18.3">1.95</text></g>
<g transform="translate(818.84,286.80) scale(1.1414,1.0000)" fill="#000"><text font-size="18.3">2</text></g>
<g transform="translate(630.70,148.50) scale(1.2072,1.0000)" fill="#000"><text font-size="18.3">time (t)</text></g>
<g transform="translate(629.70,303.50) scale(1.2162,1.0000)" fill="#000"><text font-size="18.3">time (t)</text></g>
<g transform="translate(791.72,149.50) scale(1.1368,1.0000)" fill="#000"><text font-size="18.3">x10</text></g>
<g transform="translate(825.81,143.50) scale(1.1414,1.0000)" fill="#000"><text font-size="9.2">4</text></g>
<g transform="translate(791.72,305.20) scale(1.1368,1.0000)" fill="#000"><text font-size="18.3">x10</text></g>
<g transform="translate(825.81,299.20) scale(1.1414,1.0000)" fill="#000"><text font-size="9.2">4</text></g>
<g transform="translate(754.16,23.80) scale(1.1395,1.0000)" fill="#1a1a1a"><text font-size="14.5">β = 21.91</text></g>
<g transform="translate(754.45,190.00) scale(1.1462,1.0000)" fill="#1a1a1a"><text font-size="14.5">β = 29.95</text></g>
<g transform="translate(240.30,191.84) rotate(-90) scale(1.1445,1.0000)" fill="#1a1a1a"><text font-size="14.5">β = 21.91</text></g>
<g transform="translate(304.40,191.84) rotate(-90) scale(1.1445,1.0000)" fill="#1a1a1a"><text font-size="14.5">β = 29.95</text></g>
<g transform="translate(213.32,47.60) scale(1.0885,1.0000)" fill="#ff4646"><text font-size="16">δ</text></g>
<g transform="translate(212.65,235.70) scale(1.0361,1.0000)" fill="#4169ff"><text font-size="16">δ</text></g>
<g transform="translate(644.09,25.90) scale(1.0794,1.0000)" fill="#111"><text font-size="16.8">δ</text></g>
<g transform="translate(314.50,61.30) scale(1.0000,1.0000)" fill="#ff2020"><text font-size="15.3">|</text></g>
<g transform="translate(320.44,61.30) scale(1.1167,1.0000)" fill="#ff2020"><text font-size="15.3">ε</text></g>
<g transform="translate(328.43,64.30) scale(0.9143,1.0000)" fill="#ff2020"><text font-size="8.2">1</text></g>
<g transform="translate(334.30,61.30) scale(1.0000,1.0000)" fill="#ff2020"><text font-size="15.3">|</text></g>
<g transform="translate(340.26,55.00) scale(1.1862,1.0000)" fill="#ff2020"><text font-size="8.0">2</text></g>
<g transform="translate(335.50,87.60) scale(1.0000,1.0000)" fill="#2020ff"><text font-size="15.3">|</text></g>
<g transform="translate(341.55,87.60) scale(1.1000,1.0000)" fill="#2020ff"><text font-size="15.3">ε</text></g>
<g transform="translate(349.40,90.60) scale(1.0667,1.0000)" fill="#2020ff"><text font-size="8.2">2</text></g>
<g transform="translate(355.50,87.60) scale(1.0000,1.0000)" fill="#2020ff"><text font-size="15.3">|</text></g>
<g transform="translate(361.26,81.30) scale(1.1862,1.0000)" fill="#2020ff"><text font-size="8.0">2</text></g>
<g transform="translate(539.00,32.10) scale(1.0000,1.0000)" fill="#ff2020"><text font-size="15.3">|</text></g>
<g transform="translate(544.69,32.10) scale(1.2167,1.0000)" fill="#ff2020"><text font-size="15.3">ε</text></g>
<g transform="translate(552.96,35.10) scale(0.8571,1.0000)" fill="#ff2020"><text font-size="8.0">1</text></g>
<g transform="translate(556.67,32.10) scale(1.1250,1.0000)" fill="#ff2020"><text font-size="15.3">(</text></g>
<g transform="translate(563.87,32.10) scale(1.1800,1.0000)" fill="#ff2020"><text font-size="15.3">t</text></g>
<g transform="translate(571.06,32.10) scale(1.1500,1.0000)" fill="#ff2020"><text font-size="15.3">)</text></g>
<g transform="translate(579.00,32.10) scale(1.0000,1.0000)" fill="#ff2020"><text font-size="15.3">|</text></g>
<g transform="translate(583.15,26.30) scale(1.4621,1.0000)" fill="#ff2020"><text font-size="8.0">2</text></g>
<g transform="translate(539.50,93.00) scale(1.0000,1.0000)" fill="#2020ff"><text font-size="15.3">|</text></g>
<g transform="translate(545.19,93.00) scale(1.2167,1.0000)" fill="#2020ff"><text font-size="15.3">ε</text></g>
<g transform="translate(553.31,96.00) scale(1.0483,1.0000)" fill="#2020ff"><text font-size="8.0">2</text></g>
<g transform="translate(557.17,93.00) scale(1.1250,1.0000)" fill="#2020ff"><text font-size="15.3">(</text></g>
<g transform="translate(564.37,93.00) scale(1.1800,1.0000)" fill="#2020ff"><text font-size="15.3">t</text></g>
<g transform="translate(571.56,93.00) scale(1.1500,1.0000)" fill="#2020ff"><text font-size="15.3">)</text></g>
<g transform="translate(579.50,93.00) scale(1.0000,1.0000)" fill="#2020ff"><text font-size="15.3">|</text></g>
<g transform="translate(583.65,87.20) scale(1.4621,1.0000)" fill="#2020ff"><text font-size="8.0">2</text></g>
<g transform="translate(15.90,152.38) rotate(-90) scale(1.0000,1.0000)" fill="#000"><text font-size="18.3">|</text></g>
<g transform="translate(15.90,146.51) rotate(-90) scale(1.1368,1.0000)" fill="#000"><text font-size="18.3">ε</text></g>
<g transform="translate(19.70,136.59) rotate(-90) scale(1.1034,1.0000)" fill="#000"><text font-size="8.7">n</text></g>
<g transform="translate(15.90,130.07) rotate(-90) scale(1.0000,1.0000)" fill="#000"><text font-size="18.3">|</text></g>
<g transform="translate(8.50,124.65) rotate(-90) scale(0.8941,1.0000)" fill="#000"><text font-size="9.3">2</text></g>
<g transform="translate(446.10,89.88) rotate(-90) scale(1.0000,1.0000)" fill="#000"><text font-size="18.3">|</text></g>
<g transform="translate(446.10,82.79) rotate(-90) scale(1.1088,1.0000)" fill="#000"><text font-size="18.3">ε</text></g>
<g transform="translate(450.00,73.69) rotate(-90) scale(1.1034,1.0000)" fill="#000"><text font-size="8.7">n</text></g>
<g transform="translate(446.10,66.46) rotate(-90) scale(0.9436,1.0000)" fill="#000"><text font-size="18.3">(</text></g>
<g transform="translate(446.10,60.30) rotate(-90) scale(1.1800,1.0000)" fill="#000"><text font-size="18.3">t</text></g>
<g transform="translate(446.10,53.13) rotate(-90) scale(1.0051,1.0000)" fill="#000"><text font-size="18.3">)</text></g>
<g transform="translate(446.10,45.58) rotate(-90) scale(1.0000,1.0000)" fill="#000"><text font-size="18.3">|</text></g>
<g transform="translate(439.40,39.59) rotate(-90) scale(0.9882,1.0000)" fill="#000"><text font-size="9.3">2</text></g>
<g transform="translate(446.10,245.38) rotate(-90) scale(1.0000,1.0000)" fill="#000"><text font-size="18.3">|</text></g>
<g transform="translate(446.10,238.29) rotate(-90) scale(1.1088,1.0000)" fill="#000"><text font-size="18.3">ε</text></g>
<g transform="translate(450.00,229.19) rotate(-90) scale(1.1034,1.0000)" fill="#000"><text font-size="8.7">n</text></g>
<g transform="translate(446.10,221.96) rotate(-90) scale(0.9436,1.0000)" fill="#000"><text font-size="18.3">(</text></g>
<g transform="translate(446.10,215.80) rotate(-90) scale(1.1800,1.0000)" fill="#000"><text font-size="18.3">t</text></g>
<g transform="translate(446.10,208.63) rotate(-90) scale(1.0051,1.0000)" fill="#000"><text font-size="18.3">)</text></g>
<g transform="translate(446.10,201.07) rotate(-90) scale(1.0000,1.0000)" fill="#000"><text font-size="18.3">|</text></g>
<g transform="translate(439.40,195.09) rotate(-90) scale(0.9882,1.0000)" fill="#000"><text font-size="9.3">2</text></g>
<g transform="translate(68.71,23.60) scale(0.9854,1.0000)" fill="#fff"><text font-size="19" font-weight="bold">a</text></g>
<g transform="translate(501.66,23.60) scale(1.0701,1.0000)" fill="#fff"><text font-size="19" font-weight="bold">b</text></g>
<rect x="322.00" y="50.10" width="4.90" height="1.20" fill="#ff2020"/>
<rect x="342.90" y="76.40" width="4.80" height="1.20" fill="#2020ff"/>
<rect x="2.25" y="137.60" width="1.30" height="8.20" fill="#000"/>
</svg></body></html>
